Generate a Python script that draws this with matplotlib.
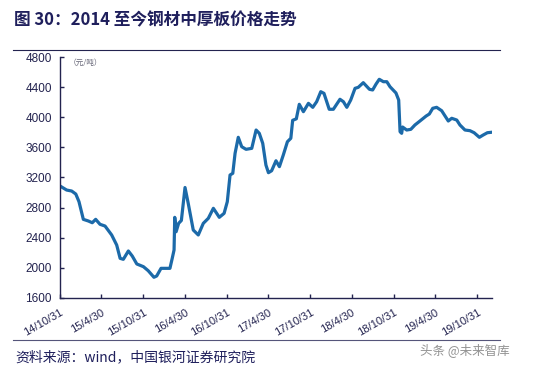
import matplotlib
matplotlib.use("Agg")
import matplotlib.pyplot as plt
import pandas as pd

# price trace of medium-heavy plate (元/吨)
dates = [
    "2014-10-31", "2014-11-29", "2014-12-21", "2015-01-08", "2015-01-22", "2015-02-10",
    "2015-03-04", "2015-03-21", "2015-04-05", "2015-04-24", "2015-05-16", "2015-06-14",
    "2015-07-06", "2015-07-21", "2015-08-04", "2015-08-26", "2015-09-12", "2015-10-02",
    "2015-10-31", "2015-11-21", "2015-12-16", "2015-12-28", "2016-01-16", "2016-02-11",
    "2016-02-24", "2016-03-05", "2016-03-13", "2016-03-16", "2016-03-22", "2016-04-02",
    "2016-04-14", "2016-04-30", "2016-05-14", "2016-06-05", "2016-06-27", "2016-07-19",
    "2016-08-10", "2016-09-01", "2016-09-27", "2016-10-18", "2016-11-01", "2016-11-13",
    "2016-11-25", "2016-12-05", "2016-12-19", "2017-01-03", "2017-01-22", "2017-02-16",
    "2017-03-07", "2017-03-21", "2017-04-05", "2017-04-19", "2017-04-30", "2017-05-14",
    "2017-06-02", "2017-06-17", "2017-07-04", "2017-07-22", "2017-08-06", "2017-08-14",
    "2017-08-30", "2017-09-12", "2017-09-30", "2017-10-22", "2017-11-10", "2017-11-27",
    "2017-12-15", "2017-12-29", "2018-01-21", "2018-02-08", "2018-03-09", "2018-03-24",
    "2018-04-08", "2018-04-25", "2018-05-14", "2018-05-28", "2018-06-19", "2018-07-16",
    "2018-07-30", "2018-08-14", "2018-08-28", "2018-09-15", "2018-09-30", "2018-10-14",
    "2018-11-09", "2018-11-21", "2018-11-27", "2018-12-04", "2018-12-08", "2018-12-26",
    "2019-01-13", "2019-01-31", "2019-02-22", "2019-03-21", "2019-04-04", "2019-04-19",
    "2019-05-06", "2019-05-28", "2019-06-12", "2019-06-26", "2019-07-11", "2019-08-02",
    "2019-08-16", "2019-09-07", "2019-09-29", "2019-10-17", "2019-11-09", "2019-11-26",
    "2019-12-14", "2019-12-29",
]
prices = [
    3087, 3033, 3020, 2980, 2878, 2643,
    2621, 2598, 2643, 2577, 2554, 2435,
    2301, 2124, 2111, 2222, 2155, 2049,
    2013, 1959, 1872, 1889, 1991, 1991,
    1991, 2124, 2235, 2670, 2478, 2590,
    2628, 3067, 2856, 2501, 2435, 2590,
    2657, 2790, 2670, 2723, 2878, 3233,
    3256, 3522, 3735, 3610, 3575, 3588,
    3832, 3788, 3655, 3366, 3264, 3290,
    3423, 3344, 3499, 3676, 3722, 3961,
    3981, 4174, 4076, 4187, 4134, 4209,
    4342, 4320, 4108, 4108, 4241, 4209,
    4134, 4231, 4387, 4400, 4462, 4374,
    4365, 4444, 4507, 4475, 4475, 4408,
    4325, 4231, 3809, 3788, 3872, 3832,
    3841, 3899, 3952, 4018, 4045, 4121,
    4134, 4089, 4018, 3952, 3988, 3965,
    3899, 3832, 3823, 3796, 3735, 3766,
    3796, 3801,
]
tick_dates = ["2014-10-31", "2015-04-30", "2015-10-31", "2016-04-30", "2016-10-31",
              "2017-04-30", "2017-10-31", "2018-04-30", "2018-10-31", "2019-04-30",
              "2019-10-31"]
tick_labels = ["14/10/31", "15/4/30", "15/10/31", "16/4/30", "16/10/31", "17/4/30",
               "17/10/31", "18/4/30", "18/10/31", "19/4/30", "19/10/31"]
y_ticks = [1600, 2000, 2400, 2800, 3200, 3600, 4000, 4400, 4800]

navy = "#23234f"
plt.rcParams["font.family"] = ["Liberation Sans", "Noto Sans CJK SC"]

fig = plt.figure(figsize=(5.34, 3.67), dpi=100)
ax = fig.add_axes([0.1124, 0.1888, 0.8084, 0.6551])

ax.plot(pd.to_datetime(dates), prices, color="#1c6aa9", linewidth=2.3,
        solid_joinstyle="round")

ax.set_xlim(pd.Timestamp("2014-10-31"), pd.Timestamp("2020-01-02"))
ax.set_ylim(1600, 4800)
ax.set_yticks(y_ticks)
ax.set_xticks(pd.to_datetime(tick_dates))
ax.set_xticklabels(tick_labels, rotation=30, ha="right", va="top",
                   rotation_mode="anchor")

for s in ["top", "right"]:
    ax.spines[s].set_visible(False)
for s in ["left", "bottom"]:
    ax.spines[s].set_color(navy)
    ax.spines[s].set_linewidth(1.0)
ax.tick_params(axis="y", direction="in", length=3, width=1, color=navy,
               labelcolor=navy, labelsize=8.5, pad=6)
ax.tick_params(axis="x", direction="in", length=3, width=1, color=navy,
               labelcolor=navy, labelsize=8, pad=7)

ax.text(0.02, 0.995, "（元/吨）", transform=ax.transAxes, fontsize=5.5,
        color="#666677", va="top", ha="left", family="Noto Sans CJK SC")

# title and rules
fig.text(0.026, 0.945, "图 30：2014 至今钢材中厚板价格走势", fontsize=12,
         fontweight="bold", color="#1f1f5c", family="Noto Sans CJK SC",
         va="center", ha="left")
fig.add_artist(plt.Line2D([0.024, 0.937], [0.864, 0.864], color=navy, linewidth=0.8))
fig.add_artist(plt.Line2D([0.024, 0.937], [0.074, 0.074], color="#55557a", linewidth=0.8))

fig.text(0.028, 0.027, "资料来源：wind，中国银河证券研究院", fontsize=10,
         color="#1f1f5c", family="Noto Sans CJK SC", va="center", ha="left",
         style="italic")
fig.text(0.955, 0.045, "头条 @未来智库", fontsize=9, color="#777777",
         family="Noto Sans CJK SC", va="center", ha="right", alpha=0.8)

fig.savefig("out.png", dpi=100)
